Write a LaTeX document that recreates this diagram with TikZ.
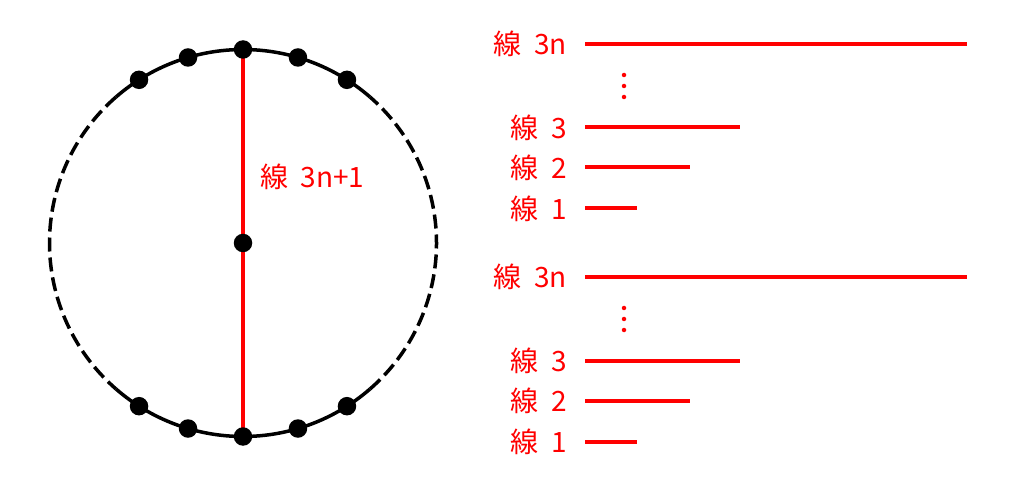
\documentclass[tikz,border=0pt]{standalone}
\usepackage{fontspec}
\setmainfont{Noto Sans CJK JP}
\newcommand{\sen}{線\hspace{0.45em}}
\begin{document}
\begin{tikzpicture}[x=1pt,y=1pt,
  dot/.style={circle,fill=black,inner sep=0pt,minimum size=18.5pt},
  circ/.style={line width=3.5pt,black},
  dsh/.style={circ,dash pattern=on 14pt off 6pt},
  red line/.style={red,line width=3.5pt},
  lbl/.style={red,font=\fontsize{28}{32}\selectfont,inner sep=0pt},
  vd/.style={circle,fill=red,inner sep=0pt,minimum size=4.5pt}]
\useasboundingbox (0,0) rectangle (1018,488);
\coordinate (c) at (243,245);
% circle arcs
\draw[circ] ([shift={(49:193.5)}]c) arc[start angle=49,end angle=131,radius=193.5];
\draw[dsh] ([shift={(131:193.5)}]c) arc[start angle=131,end angle=229,radius=193.5];
\draw[circ] ([shift={(229:193.5)}]c) arc[start angle=229,end angle=311,radius=193.5];
\draw[dsh] ([shift={(311:193.5)}]c) arc[start angle=311,end angle=409,radius=193.5];
% red diameter
\coordinate (top) at ([shift={(90:193.5)}]c);
\coordinate (bot) at ([shift={(270:193.5)}]c);
\draw[red line] (top) -- (bot);
% dots
\node[dot] (d0) at (c) {};
\foreach \a/\n in {90/t0,106.5/t1,122.5/t2,73.5/t3,57.5/t4,270/b0,253.5/b1,237.5/b2,286.5/b3,302.5/b4}
  \node[dot] (\n) at ([shift={(\a:193.5)}]c) {};
\node[lbl,anchor=west] (l0) at (260,311) {\sen 3n+1};
% right side, two groups
\foreach \g/\yo in {A/0,B/233}{
  \node[lbl,anchor=east] (\g n) at (567,444-\yo) {\sen 3n};
  \coordinate (\g ne) at (967,444-\yo);
  \draw[red line,line width=4pt] ([xshift=18pt]\g n.east) -- (\g ne);
  \node[vd] (\g v1) at (624,413-\yo) {};
  \node[vd] (\g v2) at (624,402-\yo) {};
  \node[vd] (\g v3) at (624,391-\yo) {};
  \node[lbl,anchor=east] (\g 3) at (567,360.5-\yo) {\sen 3};
  \coordinate (\g 3e) at (740,360.5-\yo);
  \draw[red line,line width=4pt] ([xshift=18pt]\g 3.east) -- (\g 3e);
  \node[lbl,anchor=east] (\g 2) at (567,320.5-\yo) {\sen 2};
  \coordinate (\g 2e) at (690,320.5-\yo);
  \draw[red line,line width=4pt] ([xshift=18pt]\g 2.east) -- (\g 2e);
  \node[lbl,anchor=east] (\g 1) at (567,279.5-\yo) {\sen 1};
  \coordinate (\g 1e) at (637,279.5-\yo);
  \draw[red line,line width=4pt] ([xshift=18pt]\g 1.east) -- (\g 1e);
}
\end{tikzpicture}
\end{document}
